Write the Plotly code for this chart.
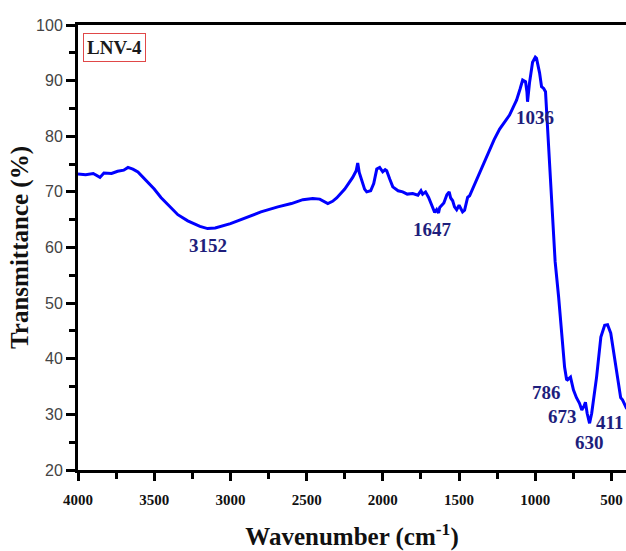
import plotly.graph_objects as go

# ---- data ----
wavenumber = [4000, 3950, 3900, 3856, 3830, 3780, 3740, 3700, 3672, 3640, 3607, 3560, 3500,
              3456, 3400, 3345, 3280, 3200, 3150, 3100, 3000, 2905, 2800, 2689, 2600, 2525,
              2460, 2414, 2380, 2361, 2330, 2303, 2250, 2198, 2175, 2165, 2155, 2139, 2120,
              2106, 2080, 2060, 2040, 2021, 2010, 2001, 1985, 1975, 1955, 1935, 1900, 1870,
              1840, 1804, 1770, 1750, 1739, 1720, 1700, 1680, 1660, 1647, 1635, 1627, 1600,
              1580, 1565, 1555, 1542, 1530, 1516, 1500, 1490, 1477, 1464, 1444, 1431, 1400,
              1365, 1330, 1300, 1270, 1234, 1200, 1169, 1140, 1123, 1100, 1083, 1064, 1055,
              1051, 1045, 1038, 1018, 1000, 992, 980, 972, 959, 945, 933, 920, 905, 893, 887,
              870, 847, 835, 820, 808, 795, 789, 769, 750, 730, 710, 695, 680, 671, 660, 644,
              630, 598, 570, 545, 526, 505, 470, 440, 428, 408, 400]
transmittance = [73.2, 73.1, 73.3, 72.6, 73.4, 73.3, 73.7, 73.9, 74.4, 74.1, 73.6, 72.3, 70.5,
                 69.0, 67.5, 65.9, 64.8, 63.8, 63.4, 63.5, 64.3, 65.3, 66.4, 67.3, 67.9, 68.6,
                 68.8, 68.7, 68.1, 67.9, 68.3, 68.9, 70.5, 72.6, 73.8, 75.2, 73.5, 72.0, 70.5,
                 70.0, 70.2, 71.5, 74.1, 74.4, 73.8, 73.6, 74.0, 73.8, 72.3, 70.9, 70.2, 70.0,
                 69.6, 69.7, 69.4, 70.2, 69.6, 70.0, 69.0, 67.5, 66.3, 66.8, 66.2, 67.2, 68.0,
                 69.5, 70.0, 68.9, 68.4, 67.3, 66.8, 67.6, 67.0, 66.4, 66.7, 69.0, 69.3, 71.3,
                 73.4, 75.5, 77.5, 79.4, 81.3, 82.7, 83.8, 85.5, 86.5, 88.5, 90.1, 89.8, 88.0,
                 86.2, 88.5, 89.6, 93.3, 94.2, 94.0, 92.5, 91.4, 88.9, 88.6, 88.0, 81.7, 75.5,
                 70.3, 65.5, 57.5, 51.1, 47.0, 42.0, 38.5, 36.3, 36.2, 36.7, 34.4, 33.0, 32.0,
                 30.8, 31.5, 32.2, 30.2, 28.4, 30.2, 36.7, 43.9, 46.0, 46.1, 44.6, 38.5, 33.0,
                 32.6, 31.3, 31.0]

peak_labels = ["3152", "1647", "1036", "786", "673", "630", "411"]
peak_label_x = [3148, 1674, 1005, 927, 822, 645, 514]
peak_label_y = [60.3, 63.3, 83.3, 34.0, 29.7, 25.0, 28.6]

x_tickvals = [4000, 3500, 3000, 2500, 2000, 1500, 1000, 500]
y_tickvals = [20, 30, 40, 50, 60, 70, 80, 90, 100]

SERIF = "Liberation Serif, Times New Roman, serif"
SANS = "Liberation Sans, Arial, sans-serif"
NAVY = "#1e1e7c"

fig = go.Figure()
fig.add_trace(go.Scatter(x=wavenumber, y=transmittance, mode="lines",
                         line=dict(color="#0000ff", width=3), showlegend=False,
                         hoverinfo="skip"))

for t, xv, yv in zip(peak_labels, peak_label_x, peak_label_y):
    fig.add_annotation(x=xv, y=yv, text="<b>" + t + "</b>", showarrow=False,
                       font=dict(family=SERIF, size=19, color=NAVY))

fig.add_annotation(xref="paper", yref="paper", x=0.009, y=0.983, xanchor="left", yanchor="top",
                   text="<b>LNV-4</b>", showarrow=False,
                   font=dict(family=SERIF, size=19, color="#1a1a1a"),
                   bordercolor="#e04848", borderwidth=1, borderpad=3, bgcolor="white")

fig.update_layout(
    width=626, height=551,
    margin=dict(l=78, r=0, t=25, b=81),
    paper_bgcolor="white", plot_bgcolor="white",
    xaxis=dict(range=[4000, 405], tickvals=x_tickvals,
               ticks="outside", ticklen=8, tickwidth=3, tickcolor="black",
               minor=dict(dtick=250, tick0=0, ticks="outside", ticklen=6, tickwidth=3, tickcolor="black"),
               showline=True, linewidth=3, linecolor="black", mirror=True,
               showgrid=False, zeroline=False, ticklabelstandoff=6,
               tickfont=dict(family=SERIF, size=15, color="#111111", weight="bold"),
               title=dict(text="<b>Wavenumber (cm<sup>-1</sup>)</b>",
                          font=dict(family=SERIF, size=25, color="#111111"), standoff=22)),
    yaxis=dict(range=[20, 100], tickvals=y_tickvals,
               ticks="outside", ticklen=9, tickwidth=3, tickcolor="black",
               minor=dict(dtick=5, tick0=0, ticks="outside", ticklen=6, tickwidth=3, tickcolor="black"),
               showline=True, linewidth=3, linecolor="black", mirror=False,
               showgrid=False, zeroline=False,
               tickfont=dict(family=SANS, size=16, color="#444444"),
               title=dict(text="<b>Transmittance (%)</b>",
                          font=dict(family=SERIF, size=25, color="#111111"), standoff=1)),
)

fig.write_html("out.html")
